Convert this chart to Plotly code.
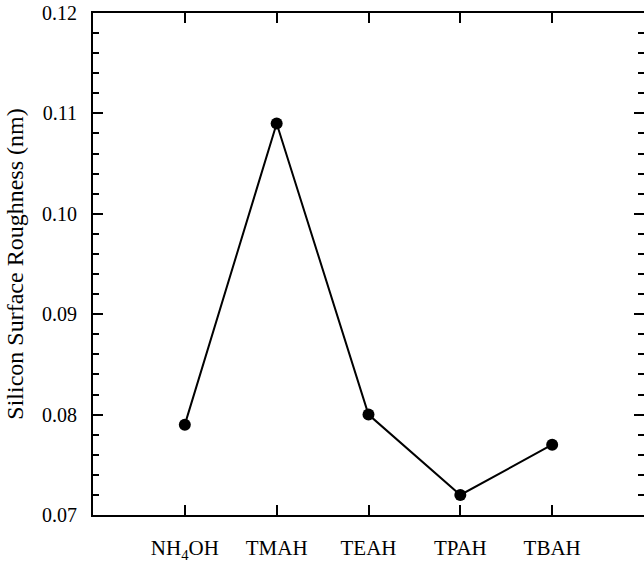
import plotly.graph_objects as go

categories = ["NH<sub>4</sub>OH", "TMAH", "TEAH", "TPAH", "TBAH"]
roughness = [0.079, 0.109, 0.080, 0.072, 0.077]
y_tick_values = [0.07, 0.08, 0.09, 0.10, 0.11, 0.12]

FONT = "Liberation Serif, Times New Roman, serif"

fig = go.Figure()
fig.add_trace(go.Scatter(
    x=categories, y=roughness, mode="lines+markers",
    line=dict(color="black", width=2),
    marker=dict(color="black", size=12),
    showlegend=False,
))
# invisible trace to anchor the right-hand tick axis
fig.add_trace(go.Scatter(
    x=categories, y=roughness, yaxis="y2", mode="markers",
    marker=dict(opacity=0), hoverinfo="skip", showlegend=False,
))

fig.update_layout(
    width=644, height=563,
    margin=dict(l=93, r=0, t=13, b=48),
    paper_bgcolor="white", plot_bgcolor="white",
    font=dict(family=FONT, size=20, color="black"),
    xaxis=dict(
        type="category", range=[-1, 5],
        showline=True, linecolor="black", linewidth=2, mirror="ticks",
        ticks="inside", ticklen=10, tickwidth=2, tickcolor="black",
        showgrid=False, zeroline=False,
        ticklabelstandoff=13,
        tickfont=dict(family=FONT, size=21),
    ),
    yaxis=dict(
        range=[0.07, 0.12], tickvals=y_tick_values, tickformat=".2f",
        showline=True, linecolor="black", linewidth=2, mirror=False,
        ticks="inside", ticklen=10, tickwidth=2, tickcolor="black",
        minor=dict(dtick=0.002, ticks="inside", ticklen=6, tickwidth=1.5, tickcolor="black", showgrid=False),
        showgrid=False, zeroline=False,
        ticklabelstandoff=10,
        tickfont=dict(family=FONT, size=20),
        title=dict(text="Silicon Surface Roughness (nm)", font=dict(family=FONT, size=24), standoff=12),
    ),
    yaxis2=dict(
        overlaying="y", side="right", range=[0.07, 0.12], tickvals=y_tick_values,
        showline=False, showticklabels=False,
        ticks="inside", ticklen=10, tickwidth=2, tickcolor="black",
        minor=dict(dtick=0.002, ticks="inside", ticklen=6, tickwidth=1.5, tickcolor="black", showgrid=False),
        showgrid=False, zeroline=False,
    ),
)

fig.write_html("out.html")
